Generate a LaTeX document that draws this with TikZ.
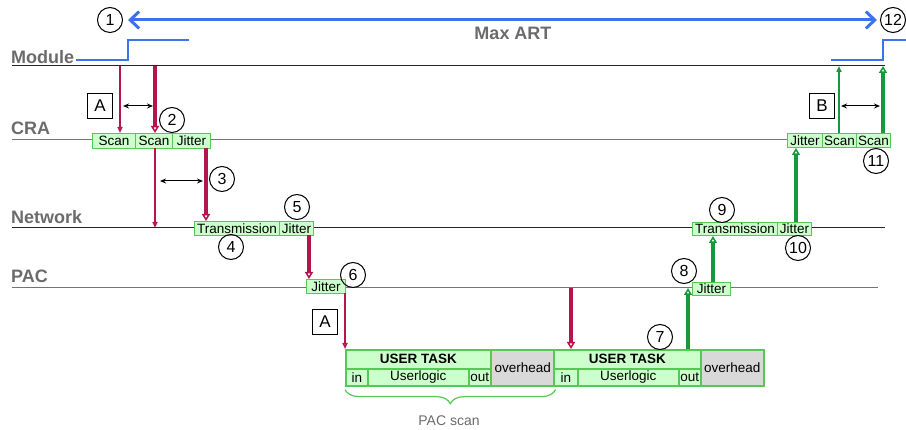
\documentclass[tikz,border=0pt]{standalone}
\usepackage{fontspec}
\setmainfont{Liberation Sans}
\usetikzlibrary{arrows.meta,decorations.pathreplacing,calc}
\definecolor{cred}{HTML}{B3154C}
\definecolor{cgreen}{HTML}{17993A}
\definecolor{bgreen}{HTML}{55C855}
\definecolor{fgreen}{HTML}{CCFFCC}
\definecolor{cblue}{HTML}{3D72EE}
\definecolor{tgrey}{HTML}{6B6B6B}
\definecolor{lgrey}{HTML}{D9D9D9}
\begin{document}
\begin{tikzpicture}[x=1pt,y=-1pt,
  gbox/.style={draw=bgreen, fill=fgreen, line width=1pt, inner sep=0pt, anchor=north west,
    font=\fontsize{13.5}{13.5}\selectfont},
  ubox/.style={draw=bgreen, fill=fgreen, line width=1.6pt, inner sep=0pt, anchor=north west,
    font=\fontsize{13.5}{13.5}\selectfont},
  obox/.style={ubox, fill=lgrey},
  circ/.style={circle, draw, line width=1pt, minimum size=25pt, inner sep=0pt,
    font=\fontsize{16}{16}\selectfont},
  sq/.style={draw, line width=1pt, minimum size=25pt, inner sep=0pt,
    font=\fontsize{17}{17}\selectfont},
  lab/.style={text=tgrey, font=\fontsize{18}{18}\selectfont\bfseries, inner sep=0pt},
  darkline/.style={draw=black!85, line width=1pt},
  greyline/.style={draw=black!55, line width=1pt},
  blueline/.style={draw=cblue, line width=2pt},
  rthin/.style={draw=cred, line width=1.5pt, -{Triangle[length=6pt,width=5pt,fill=white]}},
  rthick/.style={draw=cred, line width=4pt, -{Triangle[length=7pt,width=8pt,fill=white,line width=1.5pt]}},
  gthin/.style={draw=cgreen, line width=1.5pt, -{Triangle[length=6pt,width=5pt,fill=white]}},
  gthick/.style={draw=cgreen, line width=4pt, -{Triangle[length=7pt,width=8pt,fill=white,line width=1.5pt]}},
  dbl/.style={draw=black, line width=1pt, {Stealth[length=6pt,width=5pt]}-{Stealth[length=6pt,width=5pt]}}
]
\useasboundingbox (0,0) rectangle (906,430);

% timeline lines
\coordinate (ml0) at (12,66);  \coordinate (ml1) at (885,66);
\coordinate (cl0) at (12,140); \coordinate (cl1) at (788,140);
\coordinate (nl0) at (12,228); \coordinate (nl1) at (885,228);
\coordinate (pl0) at (12,288); \coordinate (pl1) at (878,288);
\draw[darkline] (ml0) -- (ml1);
\draw[greyline] (cl0) -- (cl1);
\draw[darkline] (nl0) -- (nl1);
\draw[greyline] (pl0) -- (pl1);

% labels
\node[lab, anchor=west] (lmod) at (11,57) {Module};
\node[lab, anchor=west] (lcra) at (11,128) {CRA};
\node[lab, anchor=west] (lnet) at (11,217) {Network};
\node[lab, anchor=west] (lpac) at (11,276) {PAC};
\node[lab] (maxart) at (513,33) {Max ART};

% Max ART arrow
\node[circ] (c1) at (110,20) {1};
\node[circ] (c12) at (893,20) {12};
\draw[draw=cblue, line width=3pt, {Straight Barb[length=9pt,width=17pt]}-{Straight Barb[length=9pt,width=17pt]},
  shorten <=5pt, shorten >=3pt] (c1) -- (c12);

% module signal steps
\draw[blueline] (76,60) -- (128,60) -- (128,40) -- (189,40);
\draw[blueline] (831,60) -- (883,60) -- (883,40) -- (906,40);

% CRA boxes left
\node[gbox, minimum width=43pt, minimum height=15pt] (cs1) at (92,133) {Scan};
\node[gbox, minimum width=37pt, minimum height=15pt] (cs2) at (135,133) {Scan};
\node[gbox, minimum width=38pt, minimum height=15pt] (cj1) at (172,133) {Jitter};

% Network boxes left
\node[gbox, minimum width=85pt, minimum height=14pt] (nt1) at (194,221) {Transmission};
\node[gbox, minimum width=34pt, minimum height=14pt] (nj1) at (279,221) {Jitter};

% PAC jitter left
\node[gbox, minimum width=39pt, minimum height=14pt] (pj1) at (306,279) {Jitter};

% user task 1
\node[ubox, minimum width=145pt, minimum height=19pt, font=\fontsize{13.5}{13.5}\selectfont\bfseries] (ut1) at (345,349) {USER TASK};
\node[ubox, minimum width=22pt, minimum height=17pt] (in1) at (345,368) {in};
\node[ubox, minimum width=101pt, minimum height=17pt] (ul1) at (367,368) {Userlogic};
\node[ubox, minimum width=22pt, minimum height=17pt] (out1) at (468,368) {out};
\node[obox, minimum width=64pt, minimum height=36pt] (ov1) at (490,349) {overhead};

% user task 2
\node[ubox, minimum width=147pt, minimum height=19pt, font=\fontsize{13.5}{13.5}\selectfont\bfseries] (ut2) at (553,349) {USER TASK};
\node[ubox, minimum width=24pt, minimum height=17pt] (in2) at (553,368) {in};
\node[ubox, minimum width=101pt, minimum height=17pt] (ul2) at (577,368) {Userlogic};
\node[ubox, minimum width=22pt, minimum height=17pt] (out2) at (678,368) {out};
\node[obox, minimum width=63pt, minimum height=36pt] (ov2) at (700,349) {overhead};

% brace
\draw[draw=bgreen, line width=1.2pt, decorate, decoration={brace, mirror, amplitude=14pt}]
  ($(in1.south west)+(0,3)$) -- ($(ov1.south east)+(0,3)$);
\node[text=tgrey, font=\fontsize{14}{14}\selectfont] (pacscan) at (449,421) {PAC scan};

% PAC jitter right
\node[gbox, minimum width=38pt, minimum height=13pt] (pj2) at (692,282) {Jitter};
% Network boxes right
\node[gbox, minimum width=85pt, minimum height=13pt] (nt2) at (692,222) {Transmission};
\node[gbox, minimum width=34pt, minimum height=13pt] (nj2) at (777,222) {Jitter};
% CRA boxes right
\node[gbox, minimum width=35pt, minimum height=14pt] (cj2) at (787,133) {Jitter};
\node[gbox, minimum width=34pt, minimum height=14pt] (cs3) at (822,133) {Scan};
\node[gbox, minimum width=34pt, minimum height=14pt] (cs4) at (856,133) {Scan};

% boxes A, B
\node[sq] (boxA1) at (100,106) {A};
\node[sq] (boxA2) at (325,322) {A};
\node[sq] (boxB) at (822,106) {B};

% numbered circles
\node[circ] (c2) at (172,120) {2};
\node[circ] (c3) at (222,179) {3};
\node[circ] (c4) at (231,247) {4};
\node[circ] (c5) at (297,207) {5};
\node[circ] (c6) at (353,275) {6};
\node[circ] (c7) at (660,337) {7};
\node[circ] (c8) at (684,271) {8};
\node[circ] (c9) at (722,210) {9};
\node[circ] (c10) at (798,248) {10};
\node[circ] (c11) at (876,161) {11};

% red arrows (downward path)
\coordinate (ra) at (120,66);
\coordinate (rb) at (155,66);
\coordinate (rc) at (155,148);
\coordinate (rd) at (206,148);
\coordinate (re) at (309,235);
\coordinate (rf) at (345,293);
\coordinate (rg) at (571,288);
\draw[rthin] (ra) -- (ra |- cs1.north);
\draw[rthick] (rb) -- (rb |- cs2.north);
\draw[rthin] (rc) -- (rc |- nl0);
\draw[rthick] (rd) -- (rd |- nt1.north);
\draw[rthick] (re) -- (re |- pj1.north);
\draw[rthin] (rf) -- (rf |- ut1.north);
\draw[rthick] (rg) -- (rg |- ut2.north);

% green arrows (upward path)
\coordinate (ga) at (688,349);
\coordinate (gb) at (713,282);
\coordinate (gc) at (796,222);
\coordinate (gd) at (839,133);
\coordinate (ge) at (883,133);
\draw[gthick] (ga) -- (ga |- pl0);
\draw[gthick] (gb) -- (gb |- nt2.south);
\draw[gthick] (gc) -- (gc |- cj2.south);
\draw[gthin] (gd) -- (gd |- ml0);
\draw[gthick] (ge) -- (ge |- ml0);

% double arrows
\coordinate (da0) at (123,106); \coordinate (da1) at (153,106);
\coordinate (db0) at (160,181); \coordinate (db1) at (203,181);
\coordinate (dc0) at (841,106); \coordinate (dc1) at (880,106);
\draw[dbl] (da0) -- (da1);
\draw[dbl] (db0) -- (db1);
\draw[dbl] (dc0) -- (dc1);
\end{tikzpicture}
\end{document}
